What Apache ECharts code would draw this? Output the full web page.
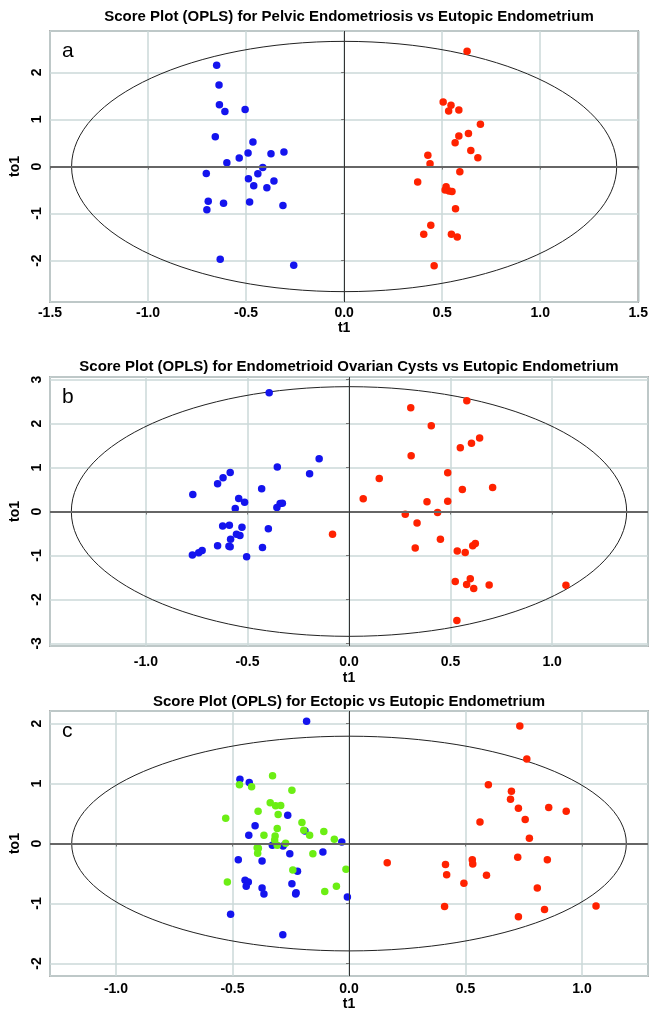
<!DOCTYPE html>
<html>
<head>
<meta charset="utf-8">
<script src="https://cdn.jsdelivr.net/npm/echarts@6/dist/echarts.min.js"></script>
<style>
  html, body { margin: 0; padding: 0; background: #fff; }
  #chart { width: 651px; height: 1012px; }
</style>
</head>
<body>
<div id="chart"></div>
<script>
// panel a: pelvic endometriosis vs eutopic
const aBlue = [
  [-0.65, 2.15], [-0.638, 1.73], [-0.636, 1.31], [-0.608, 1.17], [-0.505, 1.21],
  [-0.657, 0.63], [-0.465, 0.52], [-0.49, 0.285], [-0.373, 0.27], [-0.307, 0.31],
  [-0.535, 0.18], [-0.598, 0.08], [-0.415, -0.02], [-0.703, -0.15], [-0.488, -0.26],
  [-0.44, -0.155], [-0.461, -0.41], [-0.358, -0.31], [-0.394, -0.45], [-0.693, -0.74],
  [-0.615, -0.78], [-0.482, -0.755], [-0.312, -0.83], [-0.70, -0.92], [-0.632, -1.97],
  [-0.257, -2.10]
];
const aRed = [
  [0.627, 2.45], [0.505, 1.37], [0.545, 1.30], [0.533, 1.18], [0.585, 1.20],
  [0.695, 0.90], [0.585, 0.65], [0.634, 0.70], [0.566, 0.505], [0.646, 0.34],
  [0.682, 0.185], [0.427, 0.24], [0.438, 0.06], [0.59, -0.11], [0.375, -0.33],
  [0.52, -0.43], [0.515, -0.50], [0.535, -0.52], [0.55, -0.53], [0.568, -0.90],
  [0.442, -1.25], [0.406, -1.44], [0.547, -1.44], [0.577, -1.50], [0.459, -2.11]
];

// panel b: endometrioid ovarian cysts vs eutopic
const bBlue = [
  [-0.393, 2.70], [-0.147, 1.20], [-0.353, 1.015], [-0.194, 0.86], [-0.585, 0.89],
  [-0.62, 0.77], [-0.647, 0.63], [-0.43, 0.52], [-0.769, 0.386], [-0.543, 0.295],
  [-0.514, 0.21], [-0.339, 0.18], [-0.328, 0.19], [-0.355, 0.09], [-0.56, 0.07],
  [-0.622, -0.33], [-0.589, -0.31], [-0.527, -0.36], [-0.397, -0.39], [-0.554, -0.515],
  [-0.537, -0.545], [-0.583, -0.63], [-0.647, -0.78], [-0.591, -0.79], [-0.585, -0.80],
  [-0.426, -0.82], [-0.723, -0.89], [-0.74, -0.94], [-0.771, -0.99], [-0.504, -1.03]
];
const bRed = [
  [0.58, 2.52], [0.304, 2.36], [0.405, 1.95], [0.643, 1.67], [0.603, 1.55],
  [0.548, 1.45], [0.306, 1.27], [0.486, 0.88], [0.149, 0.75], [0.707, 0.545],
  [0.558, 0.50], [0.07, 0.29], [0.384, 0.22], [0.486, 0.235], [-0.081, -0.515],
  [0.277, -0.06], [0.436, -0.02], [0.335, -0.26], [0.45, -0.63], [0.326, -0.83],
  [0.622, -0.73], [0.609, -0.78], [0.533, -0.90], [0.572, -0.93], [0.523, -1.59],
  [0.597, -1.53], [0.579, -1.66], [0.614, -1.75], [0.69, -1.67], [1.068, -1.68],
  [0.531, -2.48]
];

// panel c: ectopic vs eutopic
const cBlue = [
  [-0.182, 2.04], [-0.468, 1.07], [-0.428, 1.016], [-0.263, 0.47], [-0.403, 0.295],
  [-0.43, 0.137], [-0.189, 0.21], [-0.031, 0.027], [-0.329, -0.03], [-0.283, -0.04],
  [-0.254, -0.17], [-0.112, -0.14], [-0.475, -0.27], [-0.373, -0.29], [-0.221, -0.46],
  [-0.446, -0.61], [-0.432, -0.64], [-0.441, -0.71], [-0.373, -0.74], [-0.365, -0.84],
  [-0.245, -0.67], [-0.227, -0.82], [-0.229, -0.84], [-0.007, -0.89], [-0.508, -1.18],
  [-0.284, -1.52]
];
const cGreen = [
  [-0.328, 1.13], [-0.47, 0.98], [-0.418, 0.945], [-0.245, 0.89], [-0.338, 0.68],
  [-0.315, 0.63], [-0.293, 0.634], [-0.39, 0.54], [-0.304, 0.486], [-0.529, 0.42],
  [-0.202, 0.35], [-0.308, 0.25], [-0.194, 0.22], [-0.108, 0.20], [-0.365, 0.14],
  [-0.317, 0.126], [-0.169, 0.137], [-0.063, 0.07], [-0.319, 0.06], [-0.394, -0.07],
  [-0.389, -0.08], [-0.392, -0.16], [-0.308, -0.03], [-0.272, 0.005], [-0.155, -0.17],
  [-0.241, -0.44], [-0.013, -0.43], [-0.522, -0.64], [-0.054, -0.71], [-0.104, -0.80]
];
const cRed = [
  [0.733, 1.96], [0.763, 1.41], [0.598, 0.98], [0.697, 0.87], [0.693, 0.74],
  [0.727, 0.59], [0.857, 0.60], [0.932, 0.54], [0.756, 0.40], [0.562, 0.36],
  [0.774, 0.09], [0.164, -0.32], [0.414, -0.35], [0.419, -0.52], [0.529, -0.27],
  [0.531, -0.34], [0.493, -0.66], [0.59, -0.53], [0.724, -0.23], [0.851, -0.27],
  [0.808, -0.74], [0.41, -1.05], [0.839, -1.10], [0.727, -1.22], [1.06, -1.04]
];

// Hotelling ellipse: [cx, cy, rx, ry] in data units
const ellipseA = [[0, 0, 1.39, 2.66]];
const ellipseB = [[0, 0, 1.367, 2.84]];
const ellipseC = [[0, 0, 1.19, 1.79]];

const titles = [
  'Score Plot (OPLS) for Pelvic Endometriosis vs Eutopic Endometrium',
  'Score Plot (OPLS) for Endometrioid Ovarian Cysts vs Eutopic Endometrium',
  'Score Plot (OPLS) for Ectopic vs Eutopic Endometrium'
];
const panelLetters = ['a', 'b', 'c'];
const xRanges = [[-1.5, 1.5], [-1.472, 1.472], [-1.283, 1.283]];
const yRanges = [[-2.88, 2.88], [-3.06, 3.06], [-2.21, 2.21]];

const BLUE = '#1414ee';
const RED = '#ff2200';
const GREEN = '#6cee14';

const grids = [
  { left: 50, top: 31, width: 598, height: 271 },
  { left: 50, top: 377, width: 598, height: 269 },
  { left: 50, top: 711, width: 598, height: 270 }
];
const titleY = [17, 367, 702];
const xLabelMargin = [4, 9, 6];
const xNameGap = [18, 25, 19];

const labelFont = { color: '#000', fontWeight: 'bold', fontSize: 14, fontFamily: 'Liberation Sans' };

const xAxes = grids.map((g, i) => ({
  type: 'value',
  gridIndex: i,
  min: xRanges[i][0],
  max: xRanges[i][1],
  interval: i === 0 ? 0.5 : undefined,
  name: 't1',
  nameLocation: 'middle',
  nameGap: xNameGap[i],
  nameTextStyle: labelFont,
  axisLine: { show: false },
  axisTick: { show: true, length: 3, lineStyle: { color: '#777' } },
  axisLabel: Object.assign({
    margin: xLabelMargin[i],
    showMinLabel: i === 0,
    showMaxLabel: i === 0,
    formatter: v => v.toFixed(1)
  }, labelFont),
  splitLine: { show: true, lineStyle: { color: '#cbd8d8', width: 1.5 } }
}));

const yAxes = grids.map((g, i) => ({
  type: 'value',
  gridIndex: i,
  min: yRanges[i][0],
  max: yRanges[i][1],
  name: 'to1',
  nameLocation: 'middle',
  nameGap: 27,
  nameRotate: 90,
  nameTextStyle: labelFont,
  axisLine: { show: false },
  axisTick: { show: true, length: 3, lineStyle: { color: '#777' } },
  axisLabel: Object.assign({
    margin: 6,
    rotate: 90,
    showMinLabel: false,
    showMaxLabel: false,
    formatter: v => String(Math.round(v))
  }, labelFont),
  splitLine: { show: true, lineStyle: { color: '#cbd8d8', width: 1.5 } }
}));

function ellipseSeries(data, i) {
  return {
    type: 'custom',
    xAxisIndex: i,
    yAxisIndex: i,
    z: 1,
    silent: true,
    data: data,
    renderItem: (params, api) => {
      const c = api.coord([api.value(0), api.value(1)]);
      const s = api.size([api.value(2), api.value(3)]);
      return {
        type: 'ellipse',
        shape: { cx: c[0], cy: c[1], rx: s[0], ry: s[1] },
        style: { fill: 'none', stroke: '#222', lineWidth: 1 }
      };
    }
  };
}

function zeroLines(i) {
  return {
    type: 'line',
    xAxisIndex: i,
    yAxisIndex: i,
    data: [],
    z: 2,
    silent: true,
    markLine: {
      symbol: 'none',
      silent: true,
      label: { show: false },
      animation: false,
      data: [
        { yAxis: 0, lineStyle: { color: '#666', width: 2, type: 'solid' } },
        { xAxis: 0, lineStyle: { color: '#333', width: 1, type: 'solid' } }
      ]
    }
  };
}

function dots(data, color, i) {
  return {
    type: 'scatter',
    xAxisIndex: i,
    yAxisIndex: i,
    z: 3,
    data: data,
    symbol: 'circle',
    symbolSize: 7.5,
    itemStyle: { color: color, opacity: 1 }
  };
}

const series = [
  ellipseSeries(ellipseA, 0), zeroLines(0), dots(aBlue, BLUE, 0), dots(aRed, RED, 0),
  ellipseSeries(ellipseB, 1), zeroLines(1), dots(bBlue, BLUE, 1), dots(bRed, RED, 1),
  ellipseSeries(ellipseC, 2), zeroLines(2), dots(cBlue, BLUE, 2), dots(cGreen, GREEN, 2), dots(cRed, RED, 2)
];

const graphic = [];
grids.forEach((g, i) => {
  graphic.push({
    type: 'text',
    x: g.left + g.width / 2,
    y: titleY[i],
    scaleX: 1.07,
    style: {
      text: titles[i],
      textAlign: 'center',
      textVerticalAlign: 'middle',
      fill: '#000',
      font: 'bold 14px "Liberation Sans"'
    }
  });
  graphic.push({
    type: 'text',
    x: g.left + 12,
    y: g.top + 20,
    style: {
      text: panelLetters[i],
      textAlign: 'left',
      textVerticalAlign: 'middle',
      fill: '#000',
      font: '21px "Liberation Sans"'
    }
  });
});

const chart = echarts.init(document.getElementById('chart'));
chart.setOption({
  animation: false,
  backgroundColor: '#fff',
  grid: grids.map(g => Object.assign({ show: true, borderColor: '#777', borderWidth: 1.5 }, g)),
  xAxis: xAxes,
  yAxis: yAxes,
  series: series,
  graphic: graphic
});
</script>
</body>
</html>
